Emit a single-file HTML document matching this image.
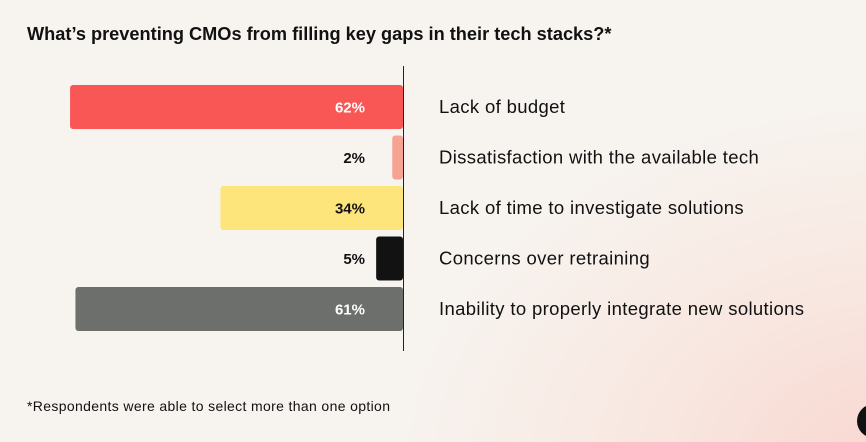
<!DOCTYPE html>
<html><head><meta charset="utf-8"><style>
html,body{margin:0;padding:0;}
body{width:866px;height:442px;overflow:hidden;position:relative;font-family:"Liberation Sans",sans-serif;
background:radial-gradient(ellipse 520px 380px at 900px 470px,#f9d6cf 0%,#f8e6df 45%,#f7f4f0 100%);background-color:#f7f4f0;}
#title{position:absolute;left:27px;top:24px;font-size:18.2px;font-weight:bold;color:#111;}
#foot{position:absolute;left:27px;top:398px;font-size:14px;letter-spacing:0.35px;color:#111;}
#dot{position:absolute;left:857px;top:404px;width:34px;height:34px;border-radius:50%;background:#111;}
</style></head><body>
<div id="title">What’s preventing CMOs from filling key gaps in their tech stacks?*</div>
<svg id="chart" width="866" height="442" style="position:absolute;left:0;top:0"></svg>
<div id="foot">*Respondents were able to select more than one option</div>
<div id="dot"></div>
<script>
const categories=["Lack of budget","Dissatisfaction with the available tech","Lack of time to investigate solutions","Concerns over retraining","Inability to properly integrate new solutions"];
const values=[62,2,34,5,61];
const colors=["#f95656","#f6a393","#fde57c","#121212","#6c6f6c"];
const labelColors=["#fff","#111","#111","#111","#fff"];
const NS="http://www.w3.org/2000/svg";
const svg=document.getElementById('chart');
const axisX=403, scale=5.37, top0=85, pitch=50.5, bh=44;
const x=v=>axisX-v*scale;
const y=i=>top0+i*pitch;
function mk(t,a){const e=document.createElementNS(NS,t);for(const k in a)e.setAttribute(k,a[k]);svg.appendChild(e);return e;}
values.forEach((v,i)=>{
  const r=mk('rect',{x:x(v),y:y(i),width:v*scale,height:bh,rx:3,fill:colors[i]});
  
  
  const t=mk('text',{x:365,y:y(i)+bh/2+5.5,'text-anchor':'end','font-size':15,'font-weight':'bold',fill:labelColors[i]});
  t.textContent=v+'%';
  
  
  const c=mk('text',{x:439,y:y(i)+bh/2+6,'font-size':18.5,'letter-spacing':0.35,fill:'#111'});
  c.textContent=categories[i];
  
  
});
const ax=mk('line',{x1:axisX+0.5,x2:axisX+0.5,y1:66,y2:351,stroke:'#222','stroke-width':1});


</script>
</body></html>
